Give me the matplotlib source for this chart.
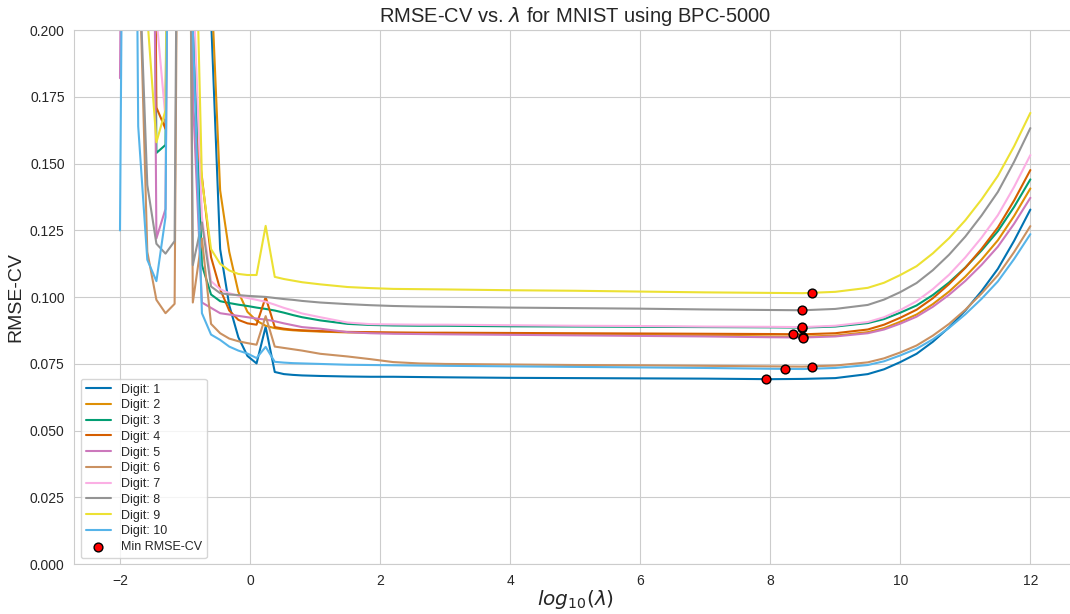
import numpy as np
import matplotlib
matplotlib.use("Agg")
import matplotlib.pyplot as plt
import seaborn as sns

# log10(lambda) sample positions (dense grid in the noisy region, coarser on the plateau)
log_lambda = [-2.0, -1.86, -1.72, -1.58, -1.44, -1.30, -1.16, -1.02, -0.88, -0.74,
              -0.60, -0.46, -0.32, -0.18, -0.04, 0.10, 0.24, 0.38, 0.52, 0.66, 0.80,
              1.08, 1.5, 1.85, 2.2, 2.6, 3.0, 4.0, 5.0, 6.0, 7.0, 8.0, 8.5,
              9.0, 9.5, 9.75, 10.0, 10.25, 10.5, 10.75, 11.0, 11.25, 11.5, 11.75, 12.0]

H = 0.6  # off-chart values (clipped by the y-limit)

digit_1 = [H, H, H, H, H, H, H, H, H, H,
           0.205, 0.118, 0.097, 0.085, 0.078, 0.0752, 0.0889, 0.072, 0.0712, 0.0709, 0.0707,
           0.0705, 0.0703, 0.0702, 0.0702, 0.0701, 0.0700, 0.0698, 0.0697, 0.0696, 0.0695, 0.0693, 0.0694,
           0.0697, 0.0712, 0.0730, 0.0757, 0.0788, 0.0833, 0.0887, 0.0950, 0.1023, 0.1106, 0.1211, 0.1328]
digit_2 = [H, H, H, H, H, H, H, H, H, H,
           0.22, 0.14, 0.117, 0.102, 0.0945, 0.0912, 0.0893, 0.0884, 0.0879, 0.0876, 0.0874,
           0.0871, 0.0868, 0.0867, 0.0866, 0.0866, 0.0865, 0.0862, 0.0860, 0.0858, 0.0856, 0.0853, 0.0852,
           0.0856, 0.0869, 0.0884, 0.0908, 0.0935, 0.0974, 0.1021, 0.1077, 0.1141, 0.1213, 0.1304, 0.1407]
digit_3 = [H, H, H, H, 0.154, 0.157, H, H, 0.21, 0.112,
           0.101, 0.0985, 0.0978, 0.0972, 0.0967, 0.0961, 0.0956, 0.095, 0.0942, 0.0933, 0.0925,
           0.0913, 0.0900, 0.0896, 0.0894, 0.0893, 0.0893, 0.0891, 0.0890, 0.0889, 0.0888, 0.0887, 0.0886,
           0.0890, 0.0903, 0.0918, 0.0942, 0.0969, 0.1008, 0.1055, 0.1111, 0.1175, 0.1247, 0.1338, 0.1441]
digit_4 = [H, H, H, H, 0.171, 0.163, H, H, 0.17, 0.145,
           0.115, 0.103, 0.095, 0.0915, 0.0902, 0.0897, 0.100, 0.0888, 0.0882, 0.0878, 0.0876,
           0.0873, 0.0870, 0.0869, 0.0868, 0.0867, 0.0867, 0.0866, 0.0865, 0.0864, 0.0863, 0.0862, 0.0861,
           0.0865, 0.0879, 0.0897, 0.0923, 0.0953, 0.0996, 0.1049, 0.1110, 0.1181, 0.1261, 0.1362, 0.1476]
digit_5 = [0.182, H, H, H, 0.122, 0.133, H, H, 0.175, 0.098,
           0.096, 0.094, 0.0935, 0.093, 0.0925, 0.092, 0.0916, 0.091, 0.0902, 0.0895, 0.0888,
           0.0882, 0.0869, 0.0865, 0.0863, 0.0862, 0.0861, 0.0859, 0.0857, 0.0855, 0.0853, 0.0850, 0.0849,
           0.0853, 0.0865, 0.0879, 0.0901, 0.0927, 0.0964, 0.1009, 0.1061, 0.1121, 0.1189, 0.1275, 0.1372]
digit_6 = [H, H, 0.24, 0.117, 0.099, 0.094, 0.0975, H, 0.098, 0.122,
           0.090, 0.0865, 0.0845, 0.0835, 0.0828, 0.0822, 0.0929, 0.0815, 0.081, 0.0805, 0.080,
           0.0788, 0.0778, 0.0768, 0.0757, 0.0752, 0.0750, 0.0748, 0.0746, 0.0745, 0.0743, 0.0741, 0.0740,
           0.0744, 0.0756, 0.0771, 0.0793, 0.0819, 0.0856, 0.0900, 0.0953, 0.1014, 0.1082, 0.1169, 0.1266]
digit_7 = [H, H, H, H, 0.205, 0.167, H, H, 0.22, 0.13,
           0.106, 0.103, 0.1015, 0.1005, 0.0997, 0.099, 0.0983, 0.0972, 0.096, 0.095, 0.0939,
           0.0925, 0.0905, 0.0899, 0.0898, 0.0897, 0.0897, 0.0895, 0.0893, 0.0892, 0.0890, 0.0889, 0.0888,
           0.0893, 0.0907, 0.0925, 0.0952, 0.0985, 0.1030, 0.1084, 0.1149, 0.1223, 0.1307, 0.1413, 0.1532]
digit_8 = [H, H, 0.235, 0.142, 0.12, 0.1163, 0.121, H, 0.112, 0.128,
           0.104, 0.1015, 0.101, 0.1008, 0.1005, 0.1003, 0.1001, 0.0997, 0.0993, 0.099, 0.0986,
           0.0980, 0.0974, 0.0970, 0.0967, 0.0965, 0.0964, 0.0961, 0.0959, 0.0957, 0.0954, 0.0952, 0.0951,
           0.0956, 0.0971, 0.0991, 0.1019, 0.1053, 0.1101, 0.1159, 0.1227, 0.1306, 0.1394, 0.1507, 0.1633]
digit_9 = [H, H, H, 0.205, 0.158, 0.17, H, H, 0.284, 0.144,
           0.118, 0.1125, 0.110, 0.1087, 0.1083, 0.1083, 0.1267, 0.1076, 0.1068, 0.1062, 0.1056,
           0.1048, 0.1038, 0.1034, 0.1031, 0.1030, 0.1029, 0.1026, 0.1024, 0.1021, 0.1018, 0.1016, 0.1015,
           0.1020, 0.1035, 0.1054, 0.1083, 0.1116, 0.1164, 0.1221, 0.1288, 0.1366, 0.1454, 0.1565, 0.1690]
digit_10 = [0.125, H, 0.164, 0.114, 0.106, 0.13, H, H, 0.2, 0.094,
            0.086, 0.084, 0.0815, 0.080, 0.0789, 0.0772, 0.0814, 0.0758, 0.0755, 0.0753, 0.0752,
            0.0750, 0.0747, 0.0746, 0.0745, 0.0744, 0.0743, 0.0741, 0.0739, 0.0737, 0.0735, 0.0732, 0.0731,
            0.0735, 0.0746, 0.0760, 0.0782, 0.0807, 0.0842, 0.0885, 0.0936, 0.0994, 0.1059, 0.1143, 0.1236]

digits = [digit_1, digit_2, digit_3, digit_4, digit_5,
          digit_6, digit_7, digit_8, digit_9, digit_10]
labels = [f"Digit: {i}" for i in range(1, 11)]

# minimum RMSE-CV per digit
min_x = [7.94, 8.50, 8.49, 8.35, 8.50, 8.64, 8.49, 8.49, 8.64, 8.22]
min_y = [0.0693, 0.0852, 0.0886, 0.0861, 0.0849, 0.0740, 0.0888, 0.0951, 0.1015, 0.0731]

sns.set_style("whitegrid")
plt.rcParams['font.family'] = ['Liberation Sans', 'DejaVu Sans']
colors = sns.color_palette("colorblind", 10)

fig, ax = plt.subplots(figsize=(10.7, 6.14), dpi=100)
fig.subplots_adjust(left=0.0696, right=1.0055, top=0.951, bottom=0.081)

for vals, lab, c in zip(digits, labels, colors):
    ax.plot(log_lambda, vals, color=c, linewidth=1.5, label=lab)

ax.scatter(min_x, min_y, s=40, color="red", edgecolor="black", linewidth=1,
           zorder=5, label="Min RMSE-CV")

ax.set_ylim(0, 0.2)
ax.set_xlim(-2.7, 12.7)
ax.set_title(r"RMSE-CV vs. $\lambda$ for MNIST using BPC-5000", fontsize=14.5)
ax.set_xlabel(r"$log_{10}(\lambda)$", fontsize=14.5, labelpad=0)
ax.set_ylabel("RMSE-CV", fontsize=14)
ax.tick_params(labelsize=10)
ax.legend(loc="lower left", fontsize=9, labelspacing=0.3)

plt.savefig("out.png", dpi=100)
plt.close()
